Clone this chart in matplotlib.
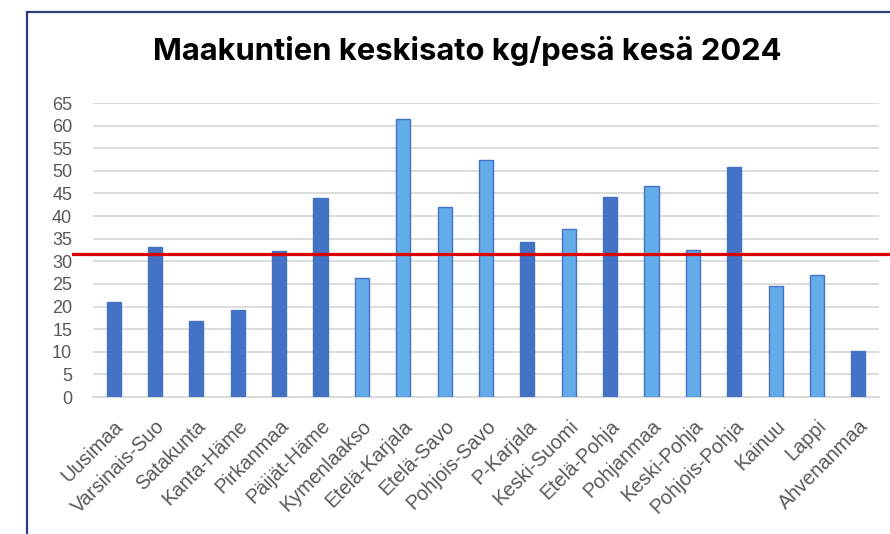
import matplotlib.pyplot as plt
import matplotlib.patches as patches
import numpy as np

# Data
regions = ["Uusimaa", "Varsinais-Suo", "Satakunta", "Kanta-Häme", "Pirkanmaa",
           "Päijät-Häme", "Kymenlaakso", "Etelä-Karjala", "Etelä-Savo", "Pohjois-Savo",
           "P-Karjala", "Keski-Suomi", "Etelä-Pohja", "Pohjanmaa", "Keski-Pohja",
           "Pohjois-Pohja", "Kainuu", "Lappi", "Ahvenanmaa"]
yields = [21.1, 33.2, 16.8, 19.2, 32.2, 44.0, 26.2, 61.5, 42.1, 52.4,
          34.3, 37.2, 44.3, 46.7, 32.5, 50.8, 24.6, 27.0, 10.2]
light = [False, False, False, False, False, False, True, True, True, True,
         False, True, False, True, True, False, True, True, False]
average = 31.6
yticks = list(range(0, 70, 5))

DARK = "#4472C4"
LIGHT = "#62ACEA"

plt.rcParams['font.family'] = ['Liberation Sans', 'DejaVu Sans']

fig = plt.figure(figsize=(8.9, 5.34), dpi=100)
ax = fig.add_axes([93 / 890, 1 - 397 / 534, (879 - 93) / 890, (397 - 103) / 534])

x = np.arange(len(regions))
colors = [LIGHT if l else DARK for l in light]
ax.bar(x, yields, width=0.34, color=colors, edgecolor=DARK, linewidth=1.0, zorder=3)

ax.set_xlim(-0.5, len(regions) - 0.5)
ax.set_ylim(0, 65)
ax.set_yticks(yticks)
ax.yaxis.grid(True, color="#D9D9D9", linewidth=1.3, zorder=0)
ax.set_axisbelow(True)
for s in ["top", "right", "left"]:
    ax.spines[s].set_visible(False)
ax.spines["bottom"].set_color("#D9D9D9")
ax.spines["bottom"].set_linewidth(1.3)
ax.tick_params(axis="y", length=0, labelsize=13, labelcolor="#595959", pad=15)
ax.tick_params(axis="x", length=0, labelsize=14.3, labelcolor="#595959", pad=14)
ax.set_xticks(x)
ax.set_xticklabels(regions, rotation=45, ha="right", rotation_mode="anchor")

# average line, drawn a bit past the plot area like in the original
ax.axhline(average, xmin=-0.025, xmax=1.02, color="#DD0000", linewidth=2.3,
           zorder=4, clip_on=False)

fig.text(467 / 890, 1 - 51 / 534, "Maakuntien keskisato kg/pesä kesä 2024",
         ha="center", va="center", fontsize=22.3, fontweight="bold",
         family="Inter", color="black")

# chart frame (runs off the right and bottom edge)
frame = patches.Rectangle((27 / 890, -0.2), 1.0, 1.2 - 12 / 534, transform=fig.transFigure,
                          fill=False, edgecolor="#2E3D7E", linewidth=1.6)
fig.patches.append(frame)

fig.savefig("out.png", dpi=100)
